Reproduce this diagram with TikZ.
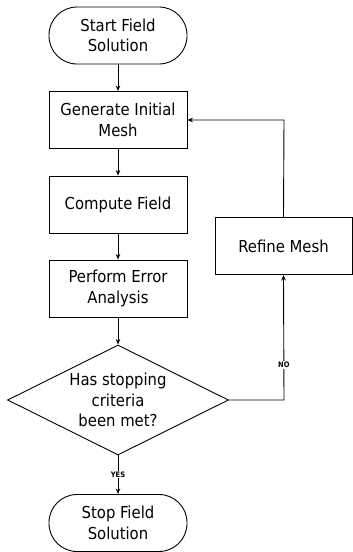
\documentclass[tikz,border=0pt]{standalone}
\usepackage{fontspec}
\setmainfont{DejaVu Sans Condensed}
\usetikzlibrary{shapes.geometric,arrows.meta}
\begin{document}
\begin{tikzpicture}[x=1pt,y=-1pt,
  every node/.style={font=\fontsize{16.5}{20.5}\selectfont, align=center, inner sep=0pt},
  boxnode/.style={draw, line width=0.9pt, minimum width=138pt, minimum height=57pt},
  termnode/.style={draw, line width=0.9pt, rounded corners=28pt, minimum width=138pt, minimum height=57pt},
  decnode/.style={draw, line width=0.9pt, diamond, aspect=2, minimum width=221pt, minimum height=110pt},
  arr/.style={draw, line width=0.9pt, -{Stealth[length=5.5pt,width=4.5pt]}},
  lbl/.style={font=\fontsize{7.5}{8}\selectfont\bfseries, fill=white, inner sep=0.8pt}]
\useasboundingbox (0,0) rectangle (353,552);
\node[termnode] (start) at (118,35.5) {Start Field\\Solution};
\node[boxnode] (gen) at (118,120) {Generate Initial\\Mesh};
\node[boxnode] (comp) at (118,204.5) {Compute Field};
\node[boxnode] (perf) at (118,288.5) {Perform Error\\Analysis};
\node[decnode] (dec) at (118,400) {Has stopping\\criteria\\been met?};
\node[termnode] (stop) at (118,523) {Stop Field\\Solution};
\node[boxnode, minimum width=137pt] (ref) at (283.5,246) {Refine Mesh};
\coordinate (c1) at (284,400);
\coordinate (c2) at (284,120);
\draw[arr] (start) -- (gen);
\draw[arr] (gen) -- (comp);
\draw[arr] (comp) -- (perf);
\draw[arr] (perf) -- (dec);
\draw[arr] (dec) -- node[lbl, pos=0.5] {YES} (stop);
\draw[arr] (dec.east) -- (c1) -- node[lbl, pos=0.28] {NO} (ref.south);
\draw[arr] (ref.north) -- (c2) -- (gen.east);
\end{tikzpicture}
\end{document}
